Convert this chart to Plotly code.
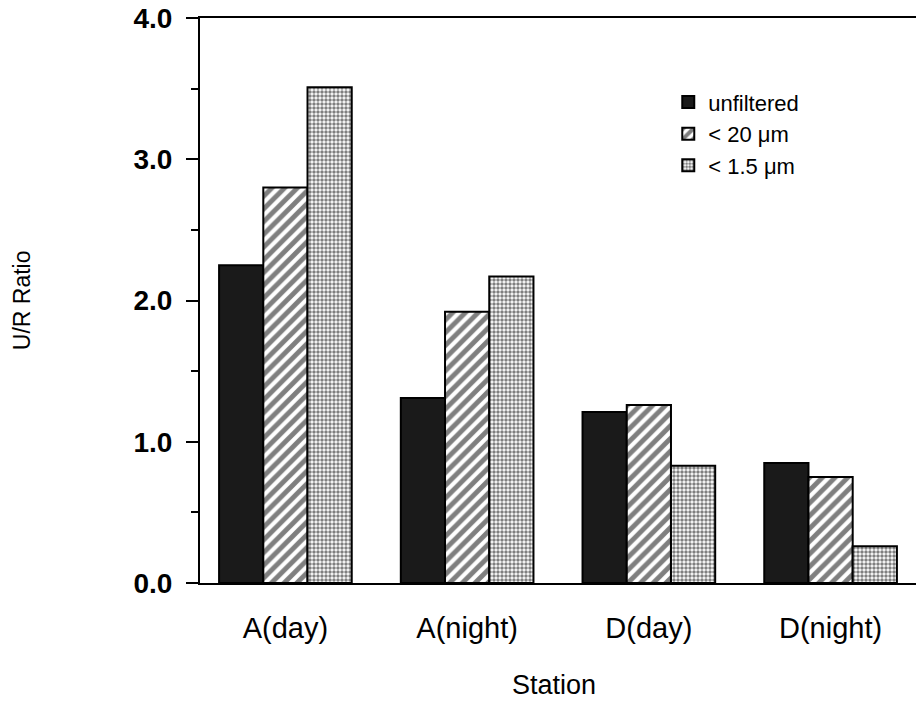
import plotly.graph_objects as go

stations = ["A(day)", "A(night)", "D(day)", "D(night)"]
unfiltered = [2.25, 1.31, 1.21, 0.85]
under_20um = [2.80, 1.92, 1.26, 0.75]
under_1_5um = [3.51, 2.17, 0.83, 0.26]
y_ticks = [0, 1, 2, 3, 4]
y_tick_text = ["0.0", "1.0", "2.0", "3.0", "4.0"]

outline = dict(color="black", width=2)

fig = go.Figure()
fig.add_trace(go.Bar(
    name="unfiltered", x=stations, y=unfiltered,
    marker=dict(color="#1a1a1a", line=outline),
))
fig.add_trace(go.Bar(
    name="< 20 \u03bcm", x=stations, y=under_20um,
    marker=dict(color="white", line=outline,
                pattern=dict(shape="/", fgcolor="black", bgcolor="white",
                             size=9, solidity=0.55)),
))
fig.add_trace(go.Bar(
    name="< 1.5 \u03bcm", x=stations, y=under_1_5um,
    marker=dict(color="white", line=outline,
                pattern=dict(shape=".", fgcolor="black", bgcolor="white",
                             size=4, solidity=0.6)),
))

fig.update_layout(
    width=916, height=702,
    margin=dict(l=200, r=0, t=18, b=119),
    paper_bgcolor="white", plot_bgcolor="white",
    barmode="group", bargap=0.27, bargroupgap=0,
    font=dict(family="Liberation Sans, Arial, sans-serif", color="black"),
    showlegend=True,
    legend=dict(x=0.654, y=0.888, xanchor="left", yanchor="top",
                font=dict(size=22), bgcolor="rgba(0,0,0,0)",
                itemwidth=30, tracegroupgap=2),
    xaxis=dict(
        range=[-0.47, 3.47], showgrid=False, zeroline=False,
        showline=True, linecolor="black", linewidth=2, mirror=True,
        ticks="", ticklabelstandoff=18,
        tickfont=dict(size=29),
    ),
    yaxis=dict(
        range=[0, 4.0], showgrid=False, zeroline=False,
        showline=True, linecolor="black", linewidth=2,
        tickvals=y_ticks, ticktext=y_tick_text,
        ticks="outside", ticklen=12, tickwidth=2, tickcolor="black",
        ticklabelstandoff=8,
        tickfont=dict(size=28, weight="bold"),
        minor=dict(dtick=0.5, ticks="outside", ticklen=7, tickwidth=2, tickcolor="black"),
    ),
    annotations=[
        dict(text="Station", xref="paper", yref="paper", x=0.494, y=-0.18,
             xanchor="center", yanchor="middle", showarrow=False,
             font=dict(size=27)),
        dict(text="U/R Ratio", xref="paper", yref="paper", x=-0.249, y=0.5,
             xanchor="center", yanchor="middle", textangle=-90,
             showarrow=False, font=dict(size=23)),
    ],
)

fig.write_html("out.html")
